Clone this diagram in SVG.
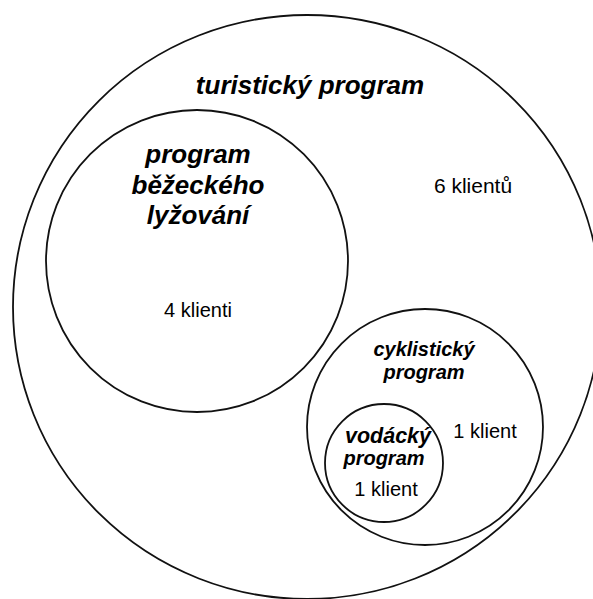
<svg xmlns="http://www.w3.org/2000/svg" width="593" height="599" viewBox="0 0 593 599">
<style>
.c{fill:none;stroke:#111;stroke-width:1.8}
.t{font-family:"Liberation Sans",Arial,sans-serif;fill:#000;text-anchor:middle}
.h{font-weight:bold;font-style:italic}
</style>
<rect width="593" height="599" fill="#fff"/>
<g id="turisticky">
<ellipse class="c" cx="307" cy="307" rx="294" ry="292"/>
<text class="t h" x="310" y="94" font-size="26">turistický program</text>
<text class="t" x="473" y="193" font-size="21">6 klientů</text>
</g>
<g id="bezecke">
<circle class="c" cx="197" cy="261" r="151"/>
<text class="t h" font-size="26"><tspan x="198" y="163">program</tspan><tspan x="198" y="194">běžeckého</tspan><tspan x="198" y="224">lyžování</tspan></text>
<text class="t" x="198" y="317" font-size="20">4 klienti</text>
</g>
<g id="cyklisticky">
<circle class="c" cx="425" cy="427" r="118"/>
<text class="t h" font-size="20"><tspan x="424" y="356">cyklistický</tspan><tspan x="424" y="379">program</tspan></text>
<text class="t" x="485" y="438" font-size="20">1 klient</text>
</g>
<g id="vodacky">
<circle class="c" cx="384" cy="463" r="59"/>
<text class="t h"><tspan x="388" y="443" font-size="21.5">vodácký</tspan><tspan x="384" y="465" font-size="20">program</tspan></text>
<text class="t" x="386" y="496" font-size="20">1 klient</text>
</g>
<g id="connectors"/>
</svg>
